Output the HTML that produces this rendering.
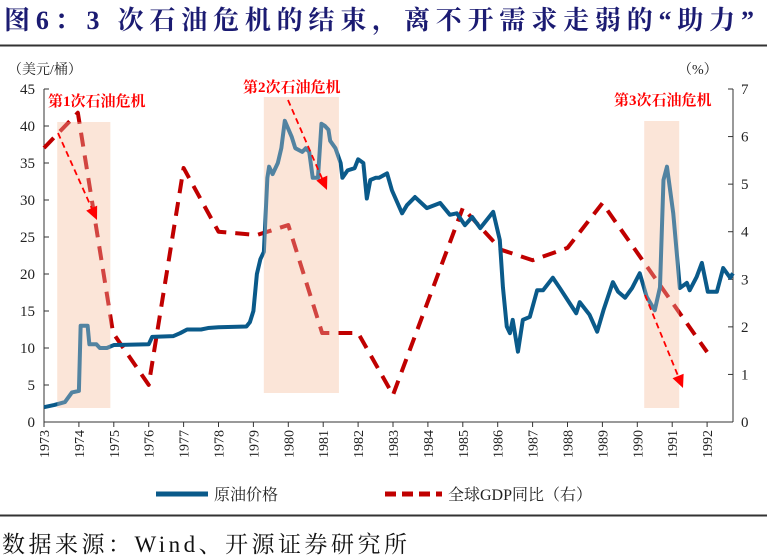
<!DOCTYPE html>
<html><head><meta charset="utf-8">
<style>
body{margin:0;background:#fff;}
svg{display:block;font-family:"Liberation Serif","Noto Serif CJK SC",serif;}
</style></head>
<body>
<svg id="chart" width="767" height="557" viewBox="0 0 767 557" xmlns="http://www.w3.org/2000/svg">
<text x="4" y="29" font-size="26" font-weight="bold" fill="#1b1b72" textLength="750" lengthAdjust="spacing">图6：3 次石油危机的结束，离不开需求走弱的“助力”</text>
<line x1="0" y1="45.5" x2="767" y2="45.5" stroke="#333" stroke-width="2"/>
<text x="8" y="74" font-size="14" fill="#222">（美元/桶）</text>
<text x="678" y="74" font-size="14" fill="#222">（%）</text>
<g id="bands"></g>
<g id="axes"></g>
<g id="series"></g>
<g id="notes"></g>
<g>
<line x1="156" y1="494" x2="208" y2="494" stroke="#0a5a8a" stroke-width="5"/>
<text x="214" y="500" font-size="16" fill="#222">原油价格</text>
<line x1="385" y1="494" x2="442" y2="494" stroke="#c00000" stroke-width="5" stroke-dasharray="11,6"/>
<text x="448" y="500" font-size="16" fill="#222">全球GDP同比（右）</text>
</g>
<line x1="0" y1="515.5" x2="767" y2="515.5" stroke="#333" stroke-width="2"/>
<text x="2" y="552" font-size="23" fill="#111" textLength="405" lengthAdjust="spacing">数据来源：Wind、开源证券研究所</text>
</svg>
<script>
const yearTicks=[1973,1974,1975,1976,1977,1978,1979,1980,1981,1982,1983,1984,1985,1986,1987,1988,1989,1990,1991,1992];
const leftTicks=[0,5,10,15,20,25,30,35,40,45];
const rightTicks=[0,1,2,3,4,5,6,7];
const oilDates=[1973,1973.3,1973.6,1973.8,1974,1974.05,1974.25,1974.3,1974.5,1974.6,1974.8,1975,1976,1976.1,1976.7,1976.9,1977.1,1977.5,1977.7,1978,1978.8,1978.9,1979,1979.1,1979.2,1979.3,1979.4,1979.45,1979.55,1979.7,1979.8,1979.9,1980.1,1980.2,1980.4,1980.5,1980.6,1980.7,1980.85,1980.95,1981.05,1981.15,1981.2,1981.35,1981.5,1981.55,1981.7,1981.9,1982,1982.15,1982.25,1982.35,1982.5,1982.6,1982.83,1982.97,1983.26,1983.4,1983.63,1983.97,1984.35,1984.63,1984.83,1985.06,1985.27,1985.5,1985.87,1986.06,1986.15,1986.26,1986.35,1986.43,1986.58,1986.72,1986.92,1987.13,1987.3,1987.58,1987.78,1988,1988.25,1988.35,1988.63,1988.85,1989.03,1989.3,1989.45,1989.65,1989.85,1990.07,1990.27,1990.5,1990.65,1990.75,1990.85,1991.03,1991.22,1991.42,1991.5,1991.7,1991.85,1992.02,1992.28,1992.46,1992.66,1992.74];
const oilValues=[2,2.3,2.7,4,4.2,13,13,10.5,10.5,10,10,10.4,10.5,11.5,11.6,12,12.5,12.5,12.7,12.8,12.9,13.5,15,20,22,23,33,34.5,33.5,35,37,40.7,38.5,37,36.5,37,36.5,33,33,40.3,40,39.5,38,37,35,33,34,34.3,35.5,35,30.2,32.7,33,33,33.6,31.3,28.2,29.3,30.4,28.9,29.6,28,28.2,26.6,27.7,26.2,28.4,24.6,18.2,12.9,12,13.8,9.5,13.8,14.2,17.8,17.8,19.5,18.1,16.5,14.7,16.2,14.5,12.2,15.1,18.9,17.6,16.8,18.1,20.1,16.9,15.1,18.2,32.7,34.5,28.2,18.1,18.8,17.8,19.6,21.5,17.6,17.6,20.8,19.5,20.1];
const gdpDates=[1973,1973.97,1974.98,1976,1977,1978,1979.1,1980,1980.97,1982,1983,1985,1986.1,1987,1988,1989,1992];
const gdpValues=[5.76,6.5,1.87,0.78,5.34,4.0,3.93,4.14,1.87,1.87,0.57,4.5,3.62,3.4,3.66,4.6,1.47];
const crisisStart=[1973.38,1979.3,1990.2];
const crisisEnd=[1974.9,1981.45,1991.2];

const NS="http://www.w3.org/2000/svg";
const X0=44,X1=733,Y0=422,YT=89;
const xs=y=>X0+(y-1973)*34.9;
const yl=v=>Y0-(v/45)*(Y0-YT);
const yr=v=>Y0-(v/7)*(Y0-YT);
function mk(tag,attrs,parent){const e=document.createElementNS(NS,tag);for(const k in attrs)e.setAttribute(k,attrs[k]);parent.appendChild(e);return e;}
const axes=document.getElementById('axes'),bands=document.getElementById('bands'),series=document.getElementById('series'),notes=document.getElementById('notes');

const bandTop=[122,97,121],bandBot=[408,393,408];
crisisStart.forEach((s,i)=>{
  const r=mk('rect',{x:xs(s),y:bandTop[i],width:xs(crisisEnd[i])-xs(s),height:bandBot[i]-bandTop[i],fill:'#fbe5d8'},bands);
  
  
});

let a=mk('line',{x1:X0,y1:YT,x2:X0,y2:Y0,stroke:'#333','stroke-width':1},axes);


a=mk('line',{x1:X1,y1:YT,x2:X1,y2:Y0,stroke:'#333','stroke-width':1},axes);


a=mk('line',{x1:X0,y1:Y0,x2:X1,y2:Y0,stroke:'#333','stroke-width':1},axes);


leftTicks.forEach(v=>{
  mk('line',{x1:X0,y1:yl(v),x2:X0+5,y2:yl(v),stroke:'#333'},axes);
  const t=mk('text',{x:X0-9,y:yl(v)+5,'font-size':15,'text-anchor':'end',fill:'#222'},axes);t.textContent=v;
  
  
});
rightTicks.forEach(v=>{
  mk('line',{x1:X1,y1:yr(v),x2:X1-5,y2:yr(v),stroke:'#333'},axes);
  const t=mk('text',{x:X1+8,y:yr(v)+5,'font-size':15,fill:'#222'},axes);t.textContent=v;
  
  
});
yearTicks.forEach(y=>{
  const x=xs(y);
  mk('line',{x1:x,y1:Y0,x2:x,y2:Y0+5,stroke:'#333'},axes);
  const t=mk('text',{x:0,y:0,'font-size':14,'text-anchor':'end',fill:'#222',transform:`translate(${x+5},${Y0+8}) rotate(-90)`},axes);t.textContent=y;
  
  
});

const gdpPts=gdpDates.map((d,i)=>xs(d)+','+yr(gdpValues[i])).join(' ');
const g=mk('polyline',{points:gdpPts,fill:'none',stroke:'#c00000','stroke-width':4,'stroke-dasharray':'14,9','stroke-linejoin':'round'},series);


const oilPts=oilDates.map((d,i)=>xs(d)+','+yl(oilValues[i])).join(' ');
const o=mk('polyline',{points:oilPts,fill:'none',stroke:'#0a5a8a','stroke-width':4,'stroke-linejoin':'round'},series);


crisisStart.forEach((s,i)=>{
  const r=mk('rect',{x:xs(s),y:bandTop[i],width:xs(crisisEnd[i])-xs(s),height:bandBot[i]-bandTop[i],fill:'#fbe5d8',opacity:0.3},series);
  
  
});

const arrows=[[58,133,97,220],[288,100,327,190],[645,295,683,388]];
const labels=[['第1次石油危机',48,106],['第2次石油危机',243,92],['第3次石油危机',614,105]];
arrows.forEach((ar,i)=>{
  const [x1,y1,x2,y2]=ar;
  const ang=Math.atan2(y2-y1,x2-x1);
  const l=mk('line',{x1:x1,y1:y1,x2:x2-10*Math.cos(ang),y2:y2-10*Math.sin(ang),stroke:'#ff0000','stroke-width':1.8,'stroke-dasharray':'6,4'},notes);
  
  
  const hx=x2,hy=y2,w=6;
  const bx=x2-13*Math.cos(ang),by=y2-13*Math.sin(ang);
  const p=mk('polygon',{points:`${hx},${hy} ${bx-w*Math.sin(ang)},${by+w*Math.cos(ang)} ${bx+w*Math.sin(ang)},${by-w*Math.cos(ang)}`,fill:'#ff0000'},notes);
  
  
});
labels.forEach((lb,i)=>{
  const t=mk('text',{x:lb[1],y:lb[2],'font-size':15,'font-weight':'bold',fill:'#ff0000'},notes);t.textContent=lb[0];
  
  
});
</script>
</body></html>
